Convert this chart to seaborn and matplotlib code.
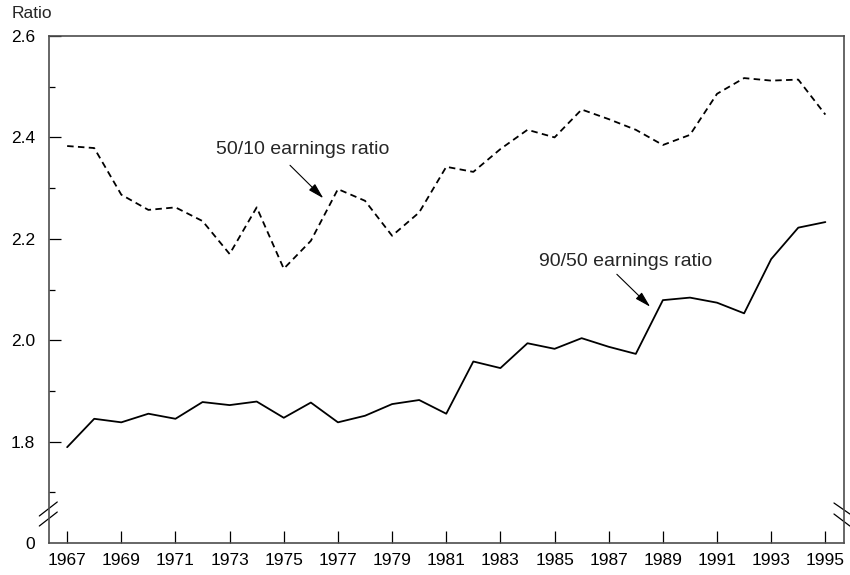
import matplotlib
matplotlib.use("Agg")
import matplotlib.pyplot as plt
import seaborn as sns
import pandas as pd

years = list(range(1967, 1996))
ratio_90_50 = [1.789, 1.845, 1.838, 1.855, 1.845, 1.878, 1.872, 1.879, 1.847, 1.877,
               1.838, 1.851, 1.874, 1.882, 1.855, 1.958, 1.945, 1.994, 1.983, 2.004,
               1.987, 1.973, 2.079, 2.084, 2.074, 2.053, 2.160, 2.222, 2.233]
ratio_50_10 = [2.383, 2.379, 2.287, 2.257, 2.262, 2.235, 2.170, 2.262, 2.141, 2.196,
               2.298, 2.275, 2.206, 2.252, 2.342, 2.332, 2.377, 2.415, 2.400, 2.455,
               2.436, 2.415, 2.385, 2.405, 2.486, 2.517, 2.512, 2.514, 2.445]
ytick_vals = [1.6, 1.8, 2.0, 2.2, 2.4, 2.6]
ytick_labels = ["0", "1.8", "2.0", "2.2", "2.4", "2.6"]
xtick_vals = list(range(1967, 1996, 2))
label_5010 = "50/10 earnings ratio"
label_9050 = "90/50 earnings ratio"

sns.set_theme(style="ticks")
plt.rcParams['font.family'] = ['Liberation Sans', 'DejaVu Sans']

df = pd.DataFrame({'year': years, 'r9050': ratio_90_50, 'r5010': ratio_50_10})

fig = plt.figure(figsize=(8.5, 5.75), dpi=100)
ax = fig.add_axes([49 / 850, 1 - 543 / 575, 794.5 / 850, 507 / 575])

sns.lineplot(data=df, x='year', y='r9050', color='black', lw=1.3, ax=ax)
sns.lineplot(data=df, x='year', y='r5010', color='black', lw=1.3,
             linestyle=(0, (3.6, 2.4)), ax=ax)

ax.set_xlim(1966.33, 1995.67)
ax.set_ylim(1.6, 2.6)
ax.set_xlabel('')
ax.set_ylabel('')

ax.set_xticks(xtick_vals)
ax.set_xticklabels([str(y) for y in xtick_vals])
ax.set_yticks(ytick_vals)
ax.set_yticklabels(ytick_labels)
ax.set_yticks([1.7, 1.9, 2.1, 2.3, 2.5], minor=True)
ax.tick_params(axis='both', which='major', direction='in', length=8.6, width=0.9,
               color='black', labelsize=12.5, labelcolor='black')
ax.tick_params(axis='y', which='major', pad=10)
ax.tick_params(axis='x', which='major', pad=7.5)
ax.tick_params(axis='y', which='minor', direction='in', length=4.2, width=0.9, color='black')
ax.yaxis.get_major_ticks()[0].tick1line.set_visible(False)

for s in ax.spines.values():
    s.set_color('#4d4d4d')
    s.set_linewidth(1.2)

# axis break marks
brk = dict(color='black', lw=0.9, clip_on=False, transform=ax.transAxes)
ax.plot([-0.0122, 0.0104], [0.0533, 0.0809], **brk)
ax.plot([-0.0122, 0.0104], [0.0335, 0.0611], **brk)
ax.plot([0.988, 1.008], [0.0789, 0.0572], **brk)
ax.plot([0.988, 1.008], [0.0572, 0.0335], **brk)

arrow = dict(arrowstyle='-|>,head_length=0.8,head_width=0.22', color='black', lw=0.8,
             shrinkA=0, shrinkB=0)
ax.text(1975.70, 2.376, label_5010, ha='center', va='center', fontsize=14)
ax.annotate('', xy=(1976.46, 2.280), xytext=(1975.23, 2.345), arrowprops=arrow)
ax.text(1987.64, 2.156, label_9050, ha='center', va='center', fontsize=14)
ax.annotate('', xy=(1988.53, 2.066), xytext=(1987.30, 2.130), arrowprops=arrow)

fig.text(12 / 850, 1 - 13 / 575, 'Ratio', ha='left', va='center', fontsize=12.5)

fig.savefig('out.png', dpi=100)
